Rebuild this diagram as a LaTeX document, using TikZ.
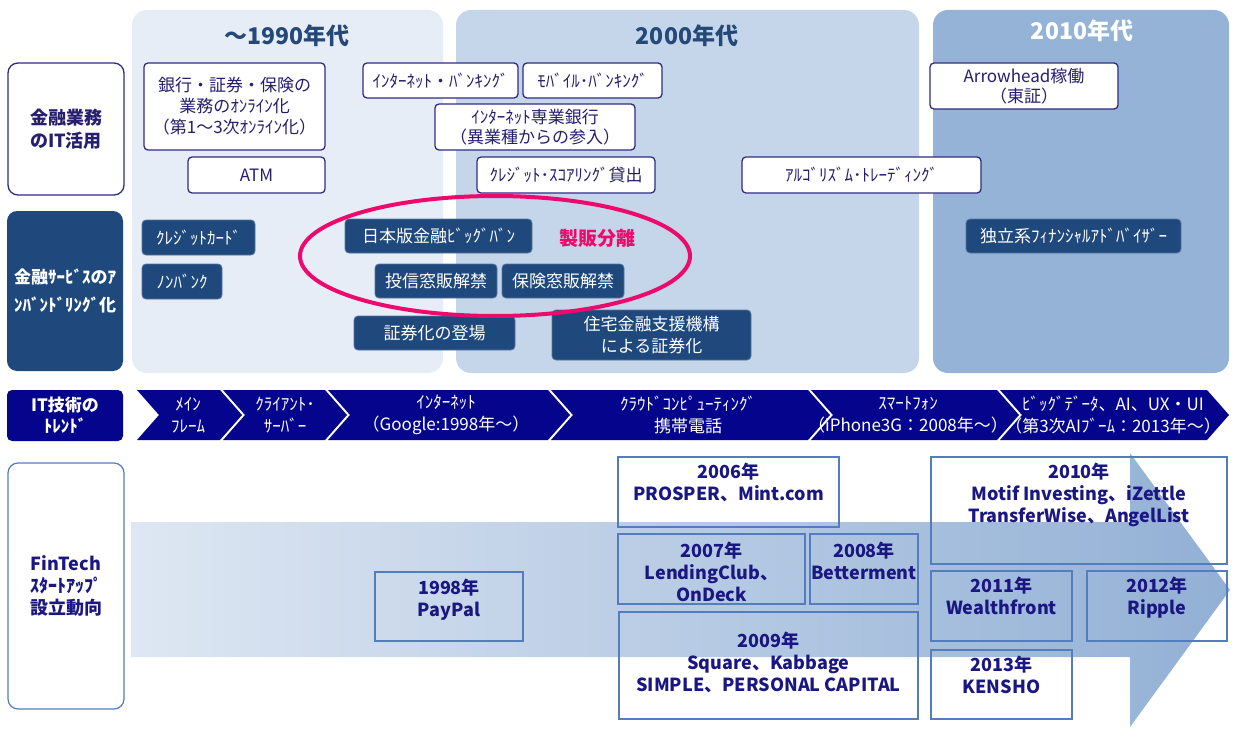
\documentclass[tikz,border=0pt]{standalone}
\usepackage{fontspec}
\setmainfont{Noto Sans CJK JP}
\definecolor{pA}{RGB}{230,237,247}
\definecolor{pB}{RGB}{198,214,234}
\definecolor{pC}{RGB}{149,179,215}
\definecolor{headc}{RGB}{36,72,120}
\definecolor{dblue}{RGB}{31,73,125}
\definecolor{navyc}{RGB}{4,4,140}
\definecolor{wbord}{RGB}{48,42,130}
\definecolor{wtxt}{RGB}{38,30,110}
\definecolor{fbord}{RGB}{84,125,190}
\definecolor{ftc}{RGB}{26,22,130}
\definecolor{pinkc}{RGB}{236,10,108}
\definecolor{arL}{RGB}{222,231,243}
\definecolor{arR}{RGB}{146,176,213}
\newcommand\fsz[2]{\fontsize{#1}{#2}\selectfont}
\newcommand\mkbox[7]{\node[#6, minimum width={(#4-#2)*1pt}, minimum height={(#5-#3)*1pt}] (#1) at ({(#2+#4)/2},{(#3+#5)/2}) {#7};}
\begin{document}
\begin{tikzpicture}[x=1pt,y=-1pt,
 wbox/.style={draw=wbord, fill=white, line width=1.3pt, rounded corners=4pt, text=wtxt, font={\fsz{17}{21}}, align=center, inner sep=0pt},
 dbox/.style={draw=dblue!75!white, fill=dblue, line width=0.8pt, rounded corners=4pt, text=white, font={\fsz{17}{22}}, align=center, inner sep=0pt},
 fbox/.style={draw=fbord, line width=1.2pt, inner sep=0pt},
 ftxt/.style={text=ftc, font={\fsz{18}{22}\bfseries}, align=center, inner sep=0pt, anchor=north},
 ctxt/.style={text=white, font={\fsz{17}{22}}, align=center, inner sep=0pt},
 panel/.style={rounded corners=15pt},
 heading/.style={font={\fsz{23}{26}\bfseries}, inner sep=0pt},
 lab/.style={rounded corners=10pt, align=center, inner sep=0pt, font={\fsz{18}{23}\bfseries}},
]
\useasboundingbox (0,0) rectangle (1240,733);
% period panels
\fill[pA, panel] (132,10) rectangle (443,373);
\fill[pB, panel] (456,10) rectangle (919,373);
\fill[pC, panel] (933,10) rectangle (1229,373);
\node[heading, text=headc] (h1) at (287,36) {～1990年代};
\node[heading, text=headc] (h2) at (687,36) {2000年代};
\node[heading, text=white] (h3) at (1082,31) {2010年代};
% row labels
\mkbox{lb1}{8}{63}{124}{195}{lab, draw=wbord, fill=white, line width=1.3pt, text=wtxt}{金融業務\\のIT活用}
\mkbox{lb2}{7}{211}{123}{371}{lab, fill=dblue, text=white, font={\fsz{17}{28}\bfseries}}{金融ｻｰﾋﾞｽのｱ\\ﾝﾊﾞﾝﾄﾞﾘﾝｸﾞ化}
\mkbox{lb3}{7}{390}{123}{441}{lab, rounded corners=5pt, fill=navyc, text=white, font={\fsz{17}{21}\bfseries}}{IT技術の\\ﾄﾚﾝﾄﾞ}
\mkbox{lb4}{8}{463}{124}{709}{lab, draw=fbord, fill=white, line width=1.2pt, text=ftc, font={\fsz{18}{22}\bfseries}}{FinTech\\ｽﾀｰﾄｱｯﾌﾟ\\設立動向}
% white boxes
\mkbox{w1}{144}{63}{325}{150}{wbox}{銀行・証券・保険の\\業務のｵﾝﾗｲﾝ化\\（第1～3次ｵﾝﾗｲﾝ化）}
\mkbox{w2}{188}{157}{325}{193}{wbox}{ATM}
\mkbox{w3}{363}{63}{518}{98}{wbox}{ｲﾝﾀｰﾈｯﾄ・ﾊﾞﾝｷﾝｸﾞ}
\mkbox{w4}{523}{63}{662}{98}{wbox}{ﾓﾊﾞｲﾙ･ﾊﾞﾝｷﾝｸﾞ}
\mkbox{w5}{435}{104}{635}{150}{wbox, font={\fsz{17}{20}}}{ｲﾝﾀｰﾈｯﾄ専業銀行\\（異業種からの参入）}
\mkbox{w6}{477}{157}{655}{193}{wbox}{ｸﾚｼﾞｯﾄ･ｽｺｱﾘﾝｸﾞ貸出}
\mkbox{w7}{742}{157}{981}{193}{wbox}{ｱﾙｺﾞﾘｽﾞﾑ･ﾄﾚｰﾃﾞｨﾝｸﾞ}
\mkbox{w8}{930}{63}{1118}{109}{wbox, font={\fsz{17}{20}}}{Arrowhead稼働\\（東証）}
% dark boxes
\mkbox{d1}{142}{220}{255}{255}{dbox}{ｸﾚｼﾞｯﾄｶｰﾄﾞ}
\mkbox{d2}{142}{264}{222}{299}{dbox}{ﾉﾝﾊﾞﾝｸ}
\mkbox{d3}{345}{219}{532}{253}{dbox}{日本版金融ﾋﾞｯｸﾞﾊﾞﾝ}
\mkbox{d4}{375}{264}{497}{298}{dbox}{投信窓販解禁}
\mkbox{d5}{502}{264}{624}{298}{dbox}{保険窓販解禁}
\mkbox{d6}{354}{316}{515}{350}{dbox}{証券化の登場}
\mkbox{d7}{552}{310}{751}{360}{dbox}{住宅金融支援機構\\による証券化}
\mkbox{d8}{966}{219}{1181}{253}{dbox}{独立系ﾌｨﾅﾝｼｬﾙｱﾄﾞﾊﾞｲｻﾞｰ}
\node[font={\fsz{19}{22}\bfseries}, text=pinkc, inner sep=0pt] (sh) at (597,238) {製販分離};
\draw[pinkc, line width=4pt] (495,256) ellipse [x radius=195, y radius=60];
% IT trend chevrons
\foreach \L/\R in {137/220,223/325,328/548,551/808,811/997,1000/1207}
  \fill[navyc] (\L,390) -- (\R,390) -- (\R+22,415) -- (\R,440) -- (\L,440) -- (\L+22,415) -- cycle;
\node[ctxt] (c1) at (188,415) {ﾒｲﾝ\\ﾌﾚｰﾑ};
\node[ctxt] (c2) at (285,415) {ｸﾗｲｱﾝﾄ･\\ｻｰﾊﾞｰ};
\node[ctxt] (c3) at (446,415) {ｲﾝﾀｰﾈｯﾄ\\（Google:1998年～）};
\node[ctxt] (c4) at (688,415) {ｸﾗｳﾄﾞｺﾝﾋﾟｭｰﾃｨﾝｸﾞ\\携帯電話};
\node[ctxt] (c5) at (908,415) {ｽﾏｰﾄﾌｫﾝ\\（iPhone3G：2008年～）};
\node[ctxt] (c6) at (1113,415) {ﾋﾞｯｸﾞﾃﾞｰﾀ、AI、UX・UI\\（第3次AIﾌﾞｰﾑ：2013年～）};
% FinTech big arrow
\shade[left color=arL, right color=arR] (131,522) -- (1130,522) -- (1130,453) -- (1230,590) -- (1130,727) -- (1130,657) -- (131,657) -- cycle;
% FinTech boxes
\mkbox{f1998}{375}{572}{523}{641}{fbox}{}
\mkbox{f2006}{618}{457}{839}{527}{fbox}{}
\mkbox{f2007}{618}{534}{805}{604}{fbox}{}
\mkbox{f2008}{810}{534}{918}{604}{fbox}{}
\mkbox{f2009}{619}{612}{918}{719}{fbox}{}
\mkbox{f2010}{931}{457}{1227}{564}{fbox}{}
\mkbox{f2011}{931}{571}{1072}{641}{fbox}{}
\mkbox{f2012}{1087}{571}{1227}{641}{fbox}{}
\mkbox{f2013}{931}{650}{1072}{719}{fbox}{}
\node[ftxt] (t1998) at ([yshift=-7pt]f1998.north) {1998年\\PayPal};
\node[ftxt] (t2006) at ([yshift=-6pt]f2006.north) {2006年\\PROSPER、Mint.com};
\node[ftxt] (t2007) at ([yshift=-8pt]f2007.north) {2007年\\LendingClub、\\OnDeck};
\node[ftxt] (t2008) at ([yshift=-8pt]f2008.north) {2008年\\Betterment};
\node[ftxt] (t2009) at ([yshift=-20pt]f2009.north) {2009年\\Square、Kabbage\\SIMPLE、PERSONAL CAPITAL};
\node[ftxt] (t2010) at ([yshift=-6pt]f2010.north) {2010年\\Motif Investing、iZettle\\TransferWise、AngelList};
\node[ftxt] (t2011) at ([yshift=-6pt]f2011.north) {2011年\\Wealthfront};
\node[ftxt] (t2012) at ([yshift=-6pt]f2012.north) {2012年\\Ripple};
\node[ftxt] (t2013) at ([yshift=-6pt]f2013.north) {2013年\\KENSHO};
\end{tikzpicture}
\end{document}
